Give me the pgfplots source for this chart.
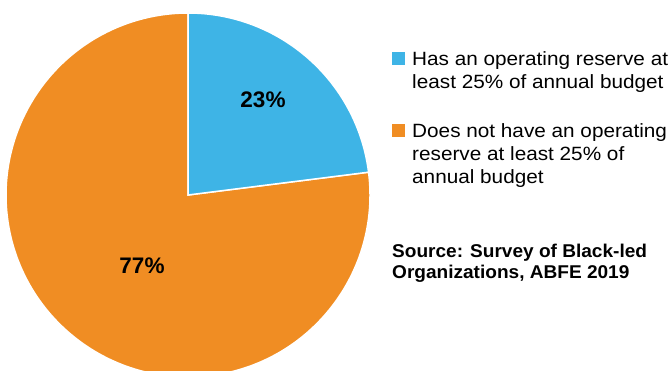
\documentclass[border=0pt]{standalone}
\usepackage{pgfplots}
\usepackage{pgfplotstable}
\pgfplotsset{compat=1.18}
\usepackage{fontspec}
\setmainfont{Liberation Sans}
\definecolor{pieblue}{HTML}{3EB4E6}
\definecolor{pieorange}{HTML}{F08D23}
\pgfplotstableread{
label value
Has 23
DoesNot 77
}\piedata
\begin{document}
\begin{tikzpicture}
\path[use as bounding box] (0,0) rectangle (672pt,370pt);
\pgfplotstablegetelem{0}{value}\of\piedata \let\va\pgfplotsretval
\pgfplotstablegetelem{1}{value}\of\piedata \let\vb\pgfplotsretval
\begin{axis}[
  at={(0,0)}, anchor=south west,
  scale only axis, width=672pt, height=370pt,
  xmin=0, xmax=672, ymin=0, ymax=370,
  hide axis, clip=true,
]
% pie centre (188,175) radius 182 (units = px = pt)
\pgfmathsetmacro{\endA}{90-3.6*\va}
\fill[pieorange, draw=white, line width=1.5pt] (axis cs:188,175) -- ++(\endA:182pt) arc[start angle=\endA, end angle=\endA-3.6*\vb, radius=182pt] -- cycle;
\fill[pieblue, draw=white, line width=1.5pt] (axis cs:188,175) -- ++(90:182pt) arc[start angle=90, end angle=\endA, radius=182pt] -- cycle;
\node[anchor=base, inner sep=0pt, font=\fontsize{22.5}{23}\selectfont\bfseries] at (axis cs:263,262) {\va\%};
\node[anchor=base, inner sep=0pt, font=\fontsize{22.5}{23}\selectfont\bfseries] at (axis cs:142,97) {\vb\%};
% legend
\fill[pieblue] (axis cs:391.5,318) rectangle (axis cs:404.5,305);
\fill[pieorange] (axis cs:391.5,246) rectangle (axis cs:404.5,233);
\tikzset{lg/.style={anchor=base west, inner sep=0pt, xscale=1.08, font=\fontsize{19.2}{23}\selectfont}}
\node[lg] at (axis cs:412,304) {Has an operating reserve at};
\node[lg] at (axis cs:412,281) {least 25\% of annual budget};
\node[lg] at (axis cs:412,232) {Does not have an operating};
\node[lg] at (axis cs:412,209) {reserve at least 25\% of};
\node[lg] at (axis cs:412,186) {annual budget};
\tikzset{src/.style={anchor=base west, inner sep=0pt, xscale=1.03, font=\fontsize{18.5}{21}\selectfont\bfseries}}
\node[src] at (axis cs:392,113) {Source: Survey of Black-led};
\node[src] at (axis cs:392,92) {Organizations, ABFE 2019};
\end{axis}
\end{tikzpicture}
\end{document}
